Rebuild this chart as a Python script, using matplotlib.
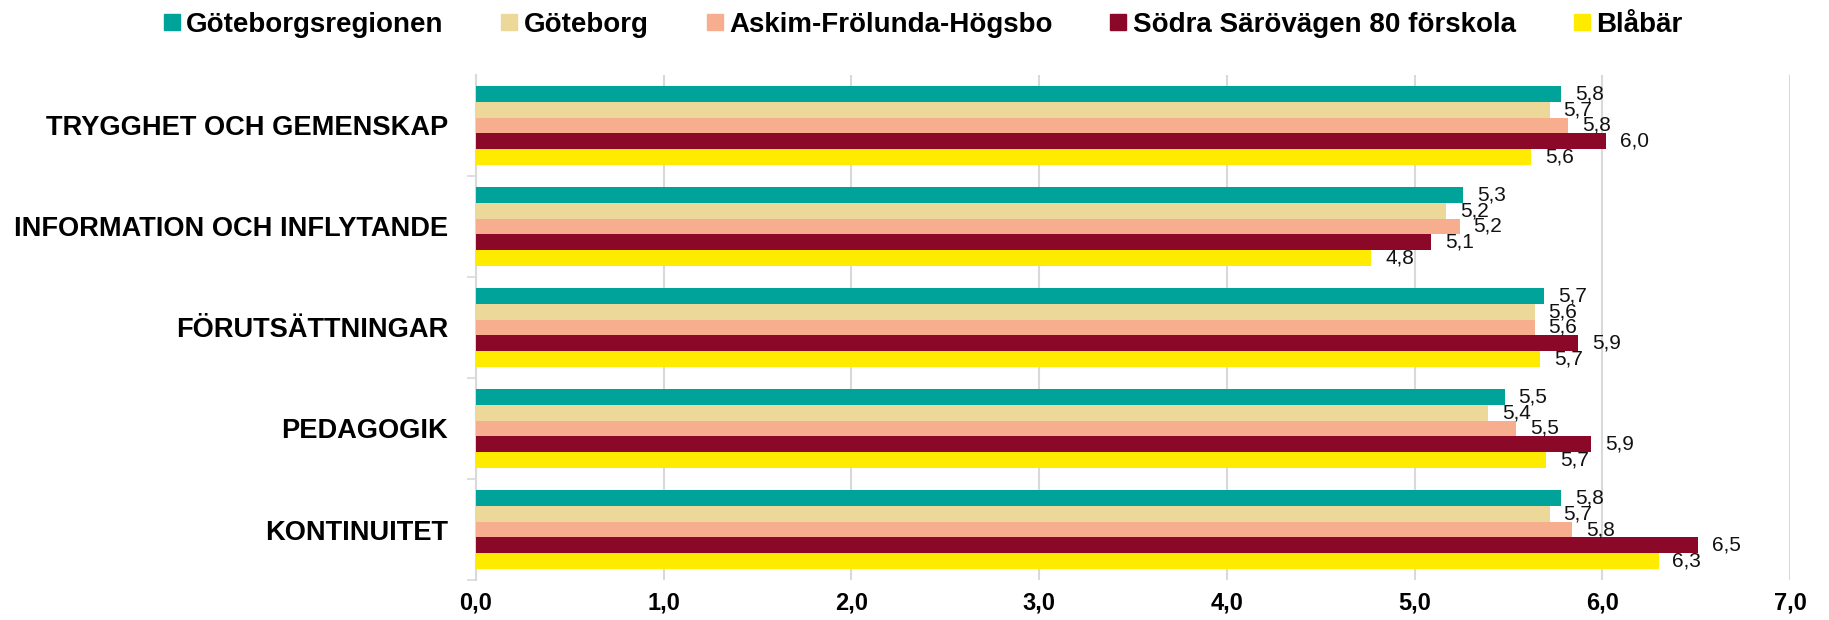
#bar chart of survey results per area, five groups compared
import numpy as np
import matplotlib.pyplot as plt
from matplotlib.lines import Line2D

#categories from top to bottom
categories = ['TRYGGHET OCH GEMENSKAP', 'INFORMATION OCH INFLYTANDE', 'FÖRUTSÄTTNINGAR', 'PEDAGOGIK', 'KONTINUITET']

#series names shown in the legend
series = ['Göteborgsregionen', 'Göteborg', 'Askim-Frölunda-Högsbo', 'Södra Särövägen 80 förskola', 'Blåbär']

#values, one list per series
goteborgsregionen = [5.78, 5.26, 5.69, 5.48, 5.78]
goteborg = [5.72, 5.17, 5.64, 5.39, 5.72]
askim = [5.82, 5.24, 5.64, 5.54, 5.84]
sodra = [6.02, 5.09, 5.87, 5.94, 6.51]
blabar = [5.62, 4.77, 5.67, 5.70, 6.30]

#x axis ticks
xticks = [0, 1, 2, 3, 4, 5, 6, 7]

colors = ['#00A39A', '#ECD898', '#F6AE8F', '#8C0828', '#FFEB00']
values = [goteborgsregionen, goteborg, askim, sodra, blabar]

fig = plt.figure(figsize=(18.29, 6.2), dpi=100)
ax = fig.add_axes([476 / 1829, 1 - 580 / 620, (1790 - 476) / 1829, (580 - 75) / 620])

y = np.arange(len(categories))
h = 0.155

for i in range(len(series)):
    pos = y + (i - 2) * h
    ax.barh(pos, values[i], height=h, color=colors[i], label=series[i], zorder=3)
    #value labels with decimal comma
    for p, v in zip(pos, values[i]):
        ax.annotate(('%.1f' % v).replace('.', ','), xy=(v, p), xytext=(10, 0),
                    textcoords='offset points', va='center', ha='left',
                    fontsize=15, family='Liberation Sans', color='#111111', zorder=4)

ax.set_xlim(0, 7)
ax.set_ylim(len(categories) - 0.5, -0.5)
ax.set_xticks(xticks)
ax.set_xticklabels([('%.1f' % t).replace('.', ',') for t in xticks],
                   fontsize=17, fontweight='bold', family='Liberation Sans')
ax.set_yticks(y)
ax.set_yticklabels(categories, fontsize=19.6, fontweight='bold', family='Liberation Sans')

#small separator ticks between the groups
ax.set_yticks(np.arange(0.5, len(categories), 1), minor=True)
ax.tick_params(axis='y', which='major', length=0, pad=20)
ax.tick_params(axis='y', which='minor', length=6.5, color='#d9d9d9', width=1.2)
ax.tick_params(axis='x', length=0, pad=8)

ax.grid(axis='x', color='#d9d9d9', linewidth=1.5, zorder=0)
for s in ['top', 'right', 'bottom']:
    ax.spines[s].set_visible(False)
ax.spines['left'].set_color('#d9d9d9')
ax.spines['left'].set_linewidth(1.5)

#legend with square markers across the top
handles = [Line2D([], [], marker='s', linestyle='', markersize=12.2, color=c) for c in colors]
fig.legend(handles, series, loc='center left', bbox_to_anchor=(163 / 1829, 1 - 25 / 620),
           ncol=5, frameon=False, borderpad=0, borderaxespad=0, handletextpad=0.22,
           columnspacing=2.05, handlelength=0.62,
           prop={'family': 'Liberation Sans', 'weight': 'bold', 'size': 20})

fig.savefig('out.png', dpi=100)
